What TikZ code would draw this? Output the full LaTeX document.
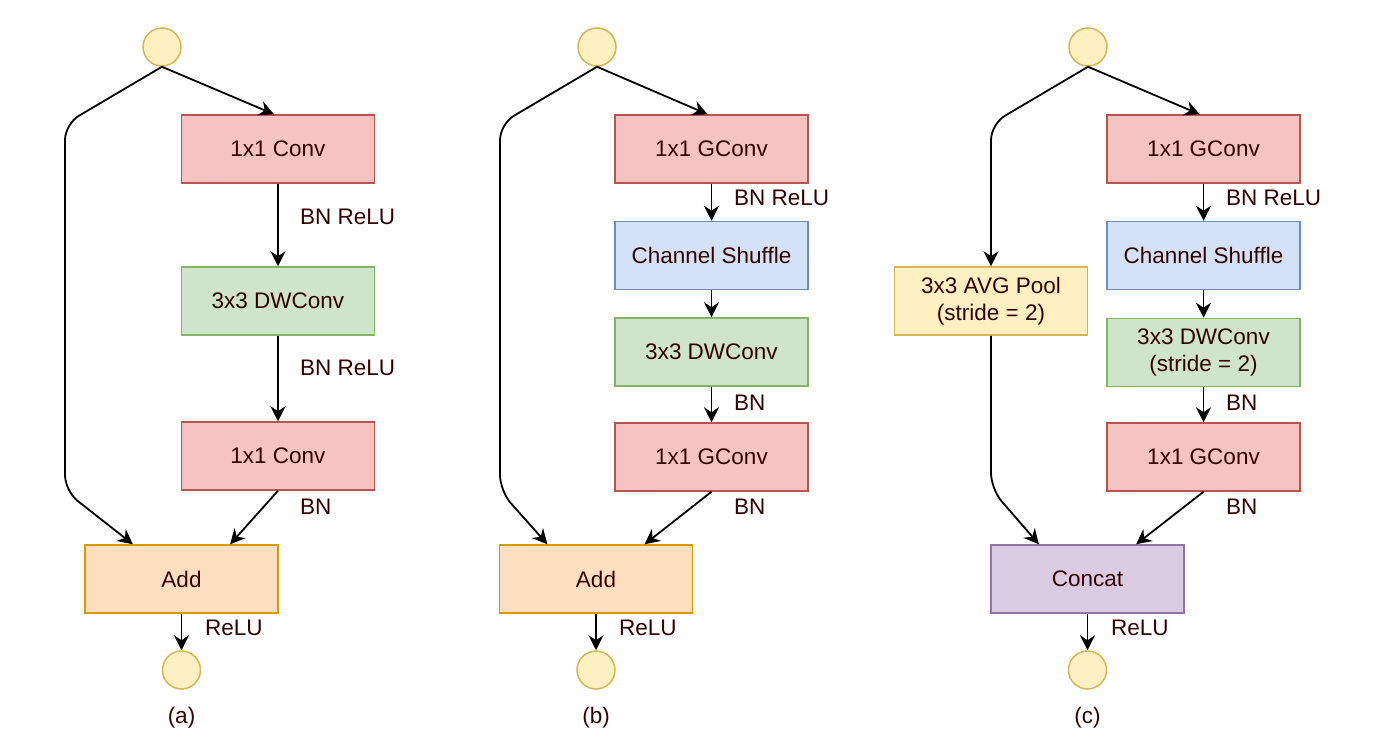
\documentclass[tikz,border=0pt]{standalone}
\usepackage{fontspec}
\setmainfont{Liberation Sans}
\usetikzlibrary{arrows.meta,calc}
\definecolor{txt}{HTML}{330000}
\definecolor{redf}{HTML}{F5C3C2}\definecolor{redd}{HTML}{B85450}
\definecolor{grnf}{HTML}{CEE4CB}\definecolor{grnd}{HTML}{82B366}
\definecolor{bluf}{HTML}{D4E2F7}\definecolor{blud}{HTML}{6C8EBF}
\definecolor{orgf}{HTML}{FDDFC0}\definecolor{orgd}{HTML}{D79B00}
\definecolor{yelf}{HTML}{FFF0C2}\definecolor{yeld}{HTML}{D6B656}
\definecolor{purf}{HTML}{DACBE2}\definecolor{purd}{HTML}{9673A6}
\tikzset{
  box/.style={rectangle, draw, line width=1.5pt, minimum width=193pt, minimum height=68pt, inner sep=0pt, text=txt, align=center, font=\fontsize{22.5}{27}\selectfont},
  redbox/.style={box, fill=redf, draw=redd},
  grnbox/.style={box, fill=grnf, draw=grnd},
  blubox/.style={box, fill=bluf, draw=blud},
  orgbox/.style={box, fill=orgf, draw=orgd},
  yelbox/.style={box, fill=yelf, draw=yeld},
  purbox/.style={box, fill=purf, draw=purd},
  io/.style={circle, draw=yeld, fill=yelf, line width=1.5pt, minimum size=38pt, inner sep=0pt},
  lbl/.style={anchor=west, inner sep=0pt, text=txt, font=\fontsize{22.5}{27}\selectfont},
  captxt/.style={inner sep=0pt, text=txt, font=\fontsize{22.5}{27}\selectfont},
  conn/.style={line width=1.8pt, -{Stealth[length=15pt,width=15pt,inset=5pt]}},
  skip/.style={conn, rounded corners=16pt},
}
\begin{document}
\begin{tikzpicture}[x=1pt,y=-1pt]
\useasboundingbox (0,0) rectangle (1388,750);
% ---------------- (a)
\node[io] (ain) at (162,47) {};
\node[redbox] (a1) at (278,149) {1x1 Conv};
\node[grnbox] (a2) at (278,301) {3x3 DWConv};
\node[redbox] (a3) at (278,456) {1x1 Conv};
\node[orgbox] (aadd) at (181.5,579) {Add};
\node[io] (aout) at (181.5,670) {};
\node[lbl] (al1) at (300,217) {BN ReLU};
\node[lbl] (al2) at (300,368) {BN ReLU};
\node[lbl] (al3) at (300,507) {BN};
\node[lbl] (al4) at (205,628) {ReLU};
\node[captxt] (acap) at (181.5,718) {(a)};
\draw[conn] (ain.south) -- ($(a1.north)+(-4,0)$);
\draw[conn] (a1.south) -- (a2.north);
\draw[conn] (a2.south) -- (a3.north);
\draw[conn] (a3.south) -- ($(aadd.north west)!0.75!(aadd.north east)$);
\draw[skip] (ain.south) -- (65,124) -- (65,491) -- ($(aadd.north west)!0.25!(aadd.north east)$);
\draw[conn] (aadd.south) -- (aout.north);
% ---------------- (b)
\node[io] (bin) at (597,47) {};
\node[redbox] (b1) at (711.5,149) {1x1 GConv};
\node[blubox] (b2) at (711.5,255.5) {Channel Shuffle};
\node[grnbox] (b3) at (711.5,352) {3x3 DWConv};
\node[redbox] (b4) at (711.5,457) {1x1 GConv};
\node[orgbox] (badd) at (596,579) {Add};
\node[io] (bout) at (596,670) {};
\node[lbl] (bl1) at (734,198) {BN ReLU};
\node[lbl] (bl2) at (734,403) {BN};
\node[lbl] (bl3) at (734,507) {BN};
\node[lbl] (bl4) at (619,628) {ReLU};
\node[captxt] (bcap) at (596,718) {(b)};
\draw[conn] (bin.south) -- ($(b1.north)+(-4,0)$);
\draw[conn] (b1.south) -- (b2.north);
\draw[conn] (b2.south) -- (b3.north);
\draw[conn] (b3.south) -- (b4.north);
\draw[conn] (b4.south) -- ($(badd.north west)!0.75!(badd.north east)$);
\draw[skip] (bin.south) -- (500,124) -- (500,491) -- ($(badd.north west)!0.25!(badd.north east)$);
\draw[conn] (badd.south) -- (bout.north);
% ---------------- (c)
\node[io] (cin) at (1088,47) {};
\node[redbox] (c1) at (1203.5,149) {1x1 GConv};
\node[blubox] (c2) at (1203.5,255.5) {Channel Shuffle};
\node[grnbox] (c3) at (1203.5,352.5) {3x3 DWConv\\(stride = 2)};
\node[redbox] (c4) at (1203.5,457) {1x1 GConv};
\node[yelbox] (cpool) at (991,301) {3x3 AVG Pool\\(stride = 2)};
\node[purbox] (ccat) at (1087.5,579) {Concat};
\node[io] (cout) at (1087.5,670) {};
\node[lbl] (cl1) at (1226,198) {BN ReLU};
\node[lbl] (cl2) at (1226,403) {BN};
\node[lbl] (cl3) at (1226,507) {BN};
\node[lbl] (cl4) at (1111,628) {ReLU};
\node[captxt] (ccap) at (1087.5,718) {(c)};
\draw[conn] (cin.south) -- ($(c1.north)+(-4,0)$);
\draw[conn] (c1.south) -- (c2.north);
\draw[conn] (c2.south) -- (c3.north);
\draw[conn] (c3.south) -- (c4.north);
\draw[conn] (c4.south) -- ($(ccat.north west)!0.75!(ccat.north east)$);
\draw[skip] (cin.south) -- (991,124) -- (cpool.north);
\draw[skip] (cpool.south) -- (991,489) -- ($(ccat.north west)!0.25!(ccat.north east)$);
\draw[conn] (ccat.south) -- (cout.north);
\end{tikzpicture}
\end{document}
